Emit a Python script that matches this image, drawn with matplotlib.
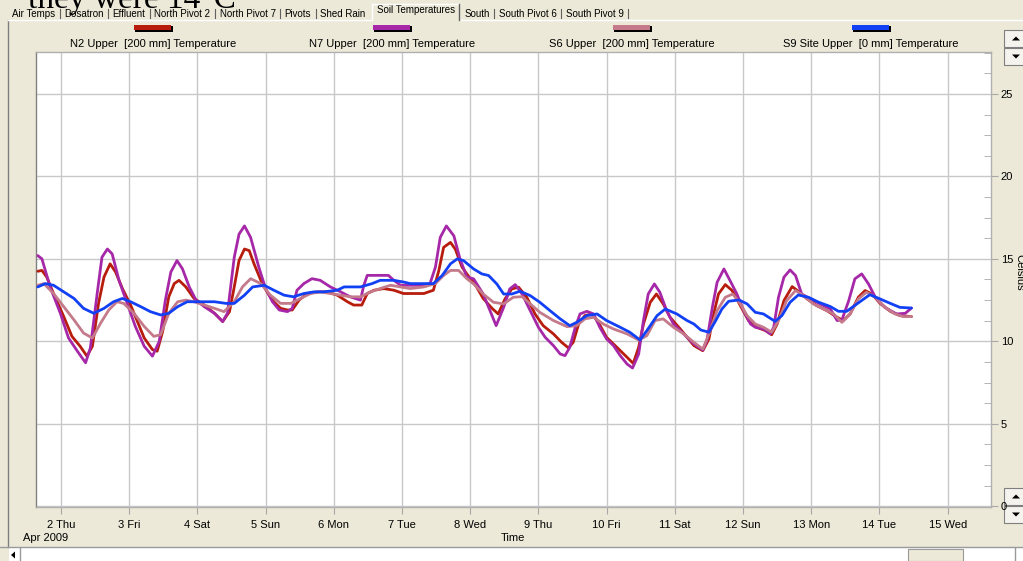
import matplotlib
matplotlib.use('Agg')
import matplotlib.pyplot as plt
from matplotlib.patches import Rectangle, Polygon
from matplotlib.ticker import MultipleLocator, FixedLocator

# ---------------- data (day of April 2009, temperature in Celsius) ----------------
n2_t = [1.66,1.72,1.79,1.89,2.04,2.16,2.28,2.38,2.46,2.55,2.63,2.72,2.80,2.90,3.02,3.12,3.22,3.34,3.41,3.49,3.58,3.66,3.73,3.83,3.95,4.10,4.25,4.37,4.47,4.54,4.61,4.69,4.76,
        4.83,4.93,5.02,5.12,5.22,5.32,5.39,5.49,5.61,5.76,5.90,6.05,6.20,6.29,6.41,6.49,6.59,6.73,6.88,7.02,7.17,7.32,7.46,7.54,7.61,7.71,7.78,7.88,8.00,
        8.05,8.19,8.32,8.41,8.51,8.61,8.71,8.83,8.95,9.07,9.22,9.34,9.44,9.51,9.59,9.68,9.78,9.88,10.00,10.15,10.30,10.39,10.47,10.54,10.64,10.73,10.83,10.93,11.08,
        11.28,11.41,11.50,11.57,11.64,11.74,11.84,11.96,12.08,12.20,12.33,12.42,12.50,12.60,12.72,12.81,12.94,13.08,13.23,13.38,13.47,13.57,13.69,13.79,13.89,14.01,14.16,14.30,14.47]
n2_v = [14.25,14.3,13.9,12.9,11.5,10.3,9.7,9.1,9.7,12.3,13.9,14.7,14.2,13.2,12.2,11.2,10.2,9.5,9.4,10.6,12.7,13.5,13.7,13.3,12.6,12.2,11.7,11.2,11.8,13.3,14.9,15.6,15.5,
        14.7,13.7,13.0,12.4,12.0,11.9,11.9,12.5,12.9,13.0,13.0,12.8,12.4,12.2,12.2,12.9,13.1,13.2,13.1,12.9,12.9,12.9,13.1,14.3,15.7,16.0,15.6,14.5,13.8,
        13.6,12.6,12.0,11.66,12.57,13.18,13.28,12.67,11.66,10.95,10.45,9.94,9.60,9.94,11.05,11.56,11.66,11.15,10.24,9.64,9.03,8.66,9.64,11.05,12.37,12.87,12.27,11.46,10.75,
        9.74,9.43,10.14,11.66,12.87,13.44,13.08,12.17,11.26,10.85,10.65,10.40,11.05,12.47,13.32,13.04,12.57,12.17,11.86,11.46,11.26,11.66,12.67,13.08,12.87,12.30,11.82,11.56,11.50]

n7_t = [1.66,1.72,1.84,1.99,2.11,2.24,2.36,2.43,2.53,2.60,2.68,2.75,2.85,2.97,3.09,3.22,3.34,3.44,3.53,3.61,3.70,3.78,3.88,3.98,4.10,4.25,4.37,4.44,4.54,4.61,4.69,4.78,
        4.90,5.00,5.10,5.20,5.32,5.39,5.46,5.56,5.68,5.80,5.95,6.10,6.24,6.39,6.44,6.49,6.63,6.73,6.80,6.88,6.98,7.12,7.27,7.41,7.49,7.56,7.65,7.76,7.85,7.95,
        8.05,8.19,8.29,8.38,8.49,8.58,8.66,8.76,8.88,9.00,9.10,9.22,9.32,9.39,9.46,9.54,9.61,9.71,9.81,9.90,10.00,10.10,10.20,10.30,10.38,10.47,10.54,10.61,10.70,10.78,10.88,10.98,11.13,
        11.28,11.41,11.47,11.55,11.62,11.72,11.81,11.91,12.01,12.11,12.18,12.30,12.40,12.45,12.52,12.60,12.69,12.77,12.86,12.99,13.13,13.28,13.38,13.45,13.55,13.64,13.74,13.84,13.94,14.08,14.25,14.38,14.47]
n7_v = [15.2,15.0,13.3,11.7,10.2,9.4,8.7,9.6,12.9,15.1,15.6,15.3,13.7,12.3,10.9,9.7,9.1,10.0,12.5,14.2,14.9,14.4,13.3,12.5,12.1,11.7,11.2,11.7,15.1,16.5,17.0,16.3,
        14.5,13.2,12.4,11.9,11.8,12.0,13.1,13.5,13.8,13.7,13.3,13.0,12.7,12.5,13.4,14.0,14.0,14.0,14.0,13.7,13.4,13.4,13.4,13.5,14.5,16.3,17.0,16.4,15.0,13.9,
        13.79,12.87,11.86,10.95,12.06,13.18,13.44,12.87,11.86,10.85,10.24,9.74,9.23,9.13,9.64,10.85,11.66,11.82,11.66,10.85,10.14,9.74,9.13,8.62,8.38,9.23,11.26,12.87,13.48,12.98,11.86,11.05,10.45,
        9.84,9.47,10.04,12.06,13.58,14.39,13.68,12.87,11.86,11.05,10.85,10.75,10.45,10.85,12.67,13.89,14.33,13.99,12.87,12.57,12.27,11.96,11.26,11.30,12.47,13.79,14.09,13.48,12.67,12.06,11.66,11.70,12.02]

s6_t = [1.66,1.75,1.89,2.04,2.19,2.33,2.46,2.58,2.70,2.82,2.92,3.07,3.22,3.36,3.46,3.58,3.71,3.83,3.95,4.10,4.25,4.39,4.54,4.66,4.78,
        4.93,5.07,5.22,5.37,5.51,5.66,5.80,5.95,6.10,6.24,6.39,6.54,6.68,6.83,6.98,7.12,7.32,7.49,7.61,7.71,7.83,7.95,
        8.05,8.19,8.34,8.49,8.63,8.76,8.88,9.02,9.22,9.42,9.56,9.68,9.81,9.95,10.10,10.30,10.47,10.59,10.71,10.83,10.98,11.13,
        11.28,11.41,11.52,11.62,11.74,11.85,11.96,12.06,12.18,12.30,12.42,12.52,12.64,12.77,12.89,13.03,13.18,13.33,13.45,13.57,13.69,13.81,13.94,14.08,14.23,14.35,14.47]
s6_v = [13.4,13.5,12.9,12.1,11.3,10.5,10.2,11.1,11.9,12.4,12.3,11.7,10.9,10.3,10.4,11.7,12.4,12.5,12.4,12.2,12.0,11.8,12.4,13.3,13.8,
        13.5,12.8,12.3,12.3,12.6,12.9,13.0,12.9,12.8,12.7,12.7,13.0,13.2,13.4,13.3,13.2,13.3,13.5,14.0,14.3,14.3,13.8,
        13.48,12.87,12.37,12.27,12.67,12.71,12.27,11.76,11.26,10.89,10.95,11.36,11.46,11.05,10.75,10.45,10.08,10.34,11.26,11.36,10.85,10.45,
        9.94,9.53,10.65,11.86,12.67,12.87,12.27,11.56,11.05,10.85,10.55,11.26,12.47,13.08,12.77,12.27,11.96,11.66,11.15,11.66,12.57,12.98,12.67,12.06,11.66,11.50,11.50]

s9_t = [1.66,1.77,1.89,2.04,2.19,2.33,2.48,2.63,2.77,2.90,3.02,3.17,3.31,3.46,3.58,3.71,3.85,4.00,4.25,4.42,4.54,4.69,4.81,
        4.98,5.12,5.27,5.41,5.56,5.71,5.85,6.05,6.15,6.39,6.56,6.68,6.88,7.02,7.12,7.46,7.59,7.71,7.81,7.90,
        8.05,8.17,8.27,8.39,8.49,8.61,8.73,8.88,9.02,9.17,9.32,9.46,9.56,9.71,9.86,10.00,10.20,10.34,10.49,10.59,10.74,10.86,11.03,11.18,
        11.28,11.38,11.50,11.60,11.69,11.79,11.94,12.06,12.18,12.30,12.47,12.57,12.69,12.81,12.96,13.11,13.28,13.40,13.52,13.67,13.86,14.01,14.16,14.30,14.47]
s9_v = [13.3,13.5,13.4,13.0,12.6,12.0,11.7,12.0,12.4,12.6,12.4,12.1,11.8,11.6,11.7,12.1,12.4,12.4,12.4,12.3,12.3,12.8,13.3,
        13.4,13.1,12.8,12.7,12.9,13.0,13.0,13.1,13.3,13.3,13.5,13.7,13.7,13.6,13.5,13.5,14.0,14.7,15.0,14.9,
        14.39,14.09,13.99,13.48,12.87,12.87,13.04,12.77,12.37,11.86,11.36,10.95,11.15,11.56,11.66,11.26,10.85,10.55,10.08,10.65,11.56,11.96,11.66,11.26,
        11.05,10.69,10.55,11.26,11.96,12.43,12.51,12.27,11.76,11.66,11.21,11.56,12.37,12.81,12.67,12.37,12.11,11.82,11.82,12.27,12.83,12.57,12.30,12.06,12.02]

series_names = ["N2 Upper  [200 mm] Temperature", "N7 Upper  [200 mm] Temperature",
                "S6 Upper  [200 mm] Temperature", "S9 Site Upper  [0 mm] Temperature"]
series_colors = ['#B81C0C', '#A628A8', '#C47A8A', '#1240F5']

day_ticks = [2, 3, 4, 5, 6, 7, 8, 9, 10, 11, 12, 13, 14, 15]
day_labels = ["2 Thu", "3 Fri", "4 Sat", "5 Sun", "6 Mon", "7 Tue", "8 Wed",
              "9 Thu", "10 Fri", "11 Sat", "12 Sun", "13 Mon", "14 Tue", "15 Wed"]
y_ticks = [0, 5, 10, 15, 20, 25]

tab_names = ["Air Temps", "Dosatron", "Effluent", "North Pivot 2", "North Pivot 7", "Pivots",
             "Shed Rain", "Soil Temperatures", "South", "South Pivot 6", "South Pivot 9"]
active_tab = "Soil Temperatures"

# ---------------- figure ----------------
W, H = 1023, 561
BG = '#ECE9D8'
FONT = 'Liberation Sans'
fig = plt.figure(figsize=(W / 100, H / 100), dpi=100, facecolor=BG)

bg = fig.add_axes([0, 0, 1, 1], zorder=0)
bg.set_xlim(0, W)
bg.set_ylim(H, 0)
bg.axis('off')

L, R, T, B = 36, 991, 52, 507
ax = fig.add_axes([L / W, 1 - B / H, (R - L) / W, (B - T) / H], zorder=2)
ax.set_facecolor('white')

all_series = [(n2_t, n2_v), (n7_t, n7_v), (s6_t, s6_v), (s9_t, s9_v)]
for (t, v), c in zip(all_series, series_colors):
    ax.plot(t, v, color=c, lw=2.0, solid_joinstyle='round', solid_capstyle='round', zorder=3)

ax.set_xlim(1.633, 15.636)
ax.set_ylim(-0.05, 27.55)
ax.xaxis.set_major_locator(FixedLocator(day_ticks))
ax.set_xticklabels(day_labels, fontsize=8, family=FONT)
ax.yaxis.tick_right()
ax.yaxis.set_major_locator(FixedLocator(y_ticks))
ax.yaxis.set_minor_locator(MultipleLocator(1.25))
ax.set_yticklabels([str(y) for y in y_ticks], fontsize=8, family=FONT)
ax.grid(True, which='major', color='#C8C8C8', lw=1.0, zorder=1)
ax.tick_params(axis='x', which='major', direction='out', length=5, color='#A8A8A8', pad=4)
ax.tick_params(axis='y', which='major', direction='out', length=5, color='#A8A8A8', pad=2)
ax.tick_params(axis='y', which='minor', direction='in', length=5, color='#A8A8A8')
for s in ax.spines.values():
    s.set_color('#B0B0B0')
    s.set_linewidth(1.0)
ax.spines['left'].set_color('#808080')

# ---------------- decorations in pixel space ----------------
# cut-off heading line above the screenshot
bg.text(28, 8, "they were 14°C", fontsize=24, family='Liberation Serif', va='baseline', ha='left', color='black')

# tab strip: laid out left to right from measured text widths
bg.add_patch(Rectangle((8, 7.5), 1015, 12.5, facecolor=BG, edgecolor='none', zorder=2))
renderer = fig.canvas.get_renderer()
x = 12.0
gap = 4.5
active_span = None
for i, name in enumerate(tab_names):
    active = (name == active_tab)
    if active:
        x += 3
    txt = bg.text(x, 10 if active else 13.5, name, fontsize=7.0, family=FONT,
                  va='center', ha='left', zorder=3)
    w = txt.get_window_extent(renderer).width
    if active:
        active_span = (x - 5, x + w + 4)
        x += w + 9
    else:
        x += w + gap
        nxt_active = (i + 1 < len(tab_names) and tab_names[i + 1] == active_tab)
        if not nxt_active:
            bg.plot([x, x], [8.5, 18], color='#606060', lw=0.8, zorder=3)
        x += gap
a0, a1 = active_span
bg.plot([8, a0], [20, 20], color='white', lw=1, zorder=3)
bg.plot([a1, W], [20, 20], color='white', lw=1, zorder=3)
bg.plot([a0, a0, a1], [20, 4, 4], color='white', lw=1, zorder=3)
bg.plot([a1, a1], [4, 20], color='#606060', lw=1, zorder=3)

# window left border
bg.plot([8, 8], [20, 547], color='#7F7F7F', lw=1)

# legend
centers = [153, 392, 632, 871]
for cx, c, name in zip(centers, series_colors, series_names):
    bg.add_patch(Rectangle((cx - 18, 26), 38, 6, facecolor='black', edgecolor='none'))
    bg.add_patch(Rectangle((cx - 19, 25), 37, 5, facecolor=c, edgecolor='none'))
    bg.text(cx, 44, name, fontsize=8, family=FONT, ha='center', va='center')

# axis captions
bg.text(23, 538, "Apr 2009", fontsize=8, family=FONT, ha='left', va='center')
bg.text(501, 538, "Time", fontsize=8, family=FONT, ha='left', va='center')
bg.text(1019, 272, "Celsius", fontsize=8, family=FONT, rotation=270, ha='center', va='center')

# right scroll buttons
def button(x, y, w, h, up):
    bg.add_patch(Rectangle((x, y), w, h, facecolor='#F4F3EE', edgecolor='#7F7F7F', lw=0.8))
    cx = x + w / 2 + 1
    cy = y + h / 2
    if up:
        tri = [(cx - 4, cy + 2), (cx + 4, cy + 2), (cx, cy - 2)]
    else:
        tri = [(cx - 4, cy - 2), (cx + 4, cy - 2), (cx, cy + 2)]
    bg.add_patch(Polygon(tri, closed=True, facecolor='black', edgecolor='none'))

button(1004, 30, 22, 17, True)
button(1004, 48, 22, 17, False)
button(1004, 488, 22, 17, True)
button(1004, 506, 22, 17, False)

# bottom scrollbar
bg.plot([0, W], [547, 547], color='#9A9A9A', lw=1)
bg.add_patch(Rectangle((9, 548), 1014, 13, facecolor='white', edgecolor='none'))
bg.plot([20, 20], [548, 561], color='#9A9A9A', lw=1)
bg.add_patch(Polygon([(11, 555), (15, 551.5), (15, 558.5)], closed=True, facecolor='black', edgecolor='none'))
bg.add_patch(Rectangle((908, 549), 55, 12, facecolor=BG, edgecolor='#9A9A9A', lw=0.8))
bg.plot([1015, 1015], [548, 561], color='#9A9A9A', lw=1)

fig.savefig('out.png', dpi=100, facecolor=BG)
